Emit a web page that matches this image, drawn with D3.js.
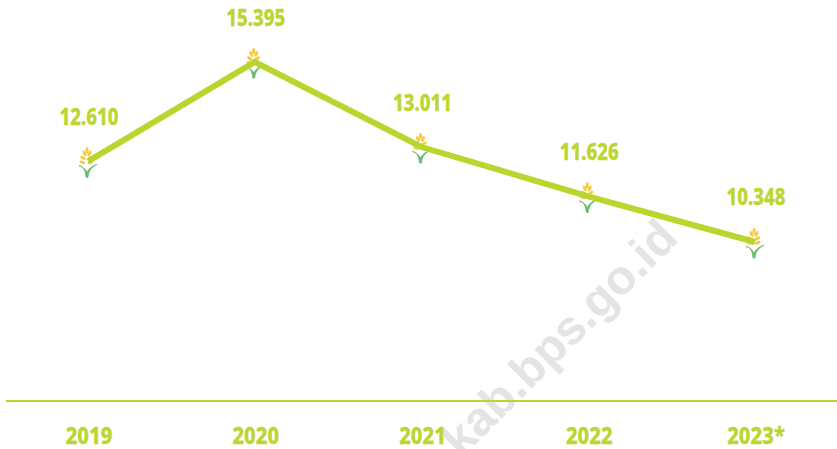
<!DOCTYPE html>
<html><head><meta charset="utf-8">
<script src="https://cdn.jsdelivr.net/npm/d3@7"></script>
<style>html,body{margin:0;padding:0;background:#fff;overflow:hidden}svg{display:block}</style>
</head><body><svg id="c" width="837" height="449"></svg>
<script>
const years = ["2019","2020","2021","2022","2023*"];
const values = [12610,15395,13011,11626,10348];
const valueLabels = ["12.610","15.395","13.011","11.626","10.348"];
const watermark = "kab.bps.go.id";
const green = "#b9d62e", labelGreen = "#bcd631";

const svg = d3.select("#c");
const x = d3.scalePoint().domain(years).range([88,755]);
const y = d3.scaleLinear().domain([5889,15395]).range([401,62]);
const font = "'Noto Sans',sans-serif";

svg.append("text").text(watermark)
  .attr("transform","translate(680,240) rotate(-45)")
  .attr("text-anchor","end")
  .attr("font-family","'Liberation Sans',Arial,sans-serif")
  .attr("font-weight",700).attr("font-size",48)
  .attr("fill","#e4e4e4");

svg.append("line").attr("x1",6).attr("x2",837).attr("y1",401).attr("y2",401)
  .attr("stroke",green).attr("stroke-width",2);

const line = d3.line().x((d,i)=>x(years[i])).y(d=>y(d));

const icon = svg.append("g").selectAll("g").data(values).join("g")
  .attr("transform",(d,i)=>`translate(${x(years[i])-1},${y(d)})`);
icon.append("path")
  .attr("d","M-8,4.5 C-4,5 -1.5,9 -1,16 L1,16 C1.5,9 5,6 10,3 C5,5 1.5,7.5 0,11 C-1.5,8 -4,5.5 -8,4.5Z")
  .attr("fill","#67bb6e").attr("stroke","#67bb6e").attr("stroke-width",.8);
const grains = [[-2.5,-8,-25],[2.5,-8,25],[-4,-3.5,-60],[3.5,-3.5,60],[-4.5,1,-70],[3.5,1,70],[0,-11,0]];
icon.selectAll("ellipse").data(grains).join("ellipse")
  .attr("rx",1.5).attr("ry",3.1)
  .attr("transform",g=>`translate(${g[0]},${g[1]}) rotate(${g[2]})`)
  .attr("fill","#fbc93d");

svg.append("path").datum(values).attr("d",line)
  .attr("fill","none").attr("stroke",green).attr("stroke-width",6).attr("stroke-linejoin","miter");

const textStyle = s => s.attr("font-family",font).attr("font-weight",800)
  .attr("font-size",23.5).attr("fill",labelGreen).attr("text-anchor","middle")
  .attr("stroke",labelGreen).attr("stroke-width",.3);

svg.append("g").selectAll("text").data(values).join("text")
  .text((d,i)=>valueLabels[i])
  .attr("transform",(d,i)=>`translate(${x(years[i])+1},${y(d)-36.5}) scale(0.79,1)`)
  .call(textStyle);

svg.append("g").selectAll("text").data(years).join("text")
  .text(d=>d)
  .attr("transform",d=>`translate(${x(d)+1},444) scale(0.86,1)`)
  .call(textStyle);
</script></body></html>
